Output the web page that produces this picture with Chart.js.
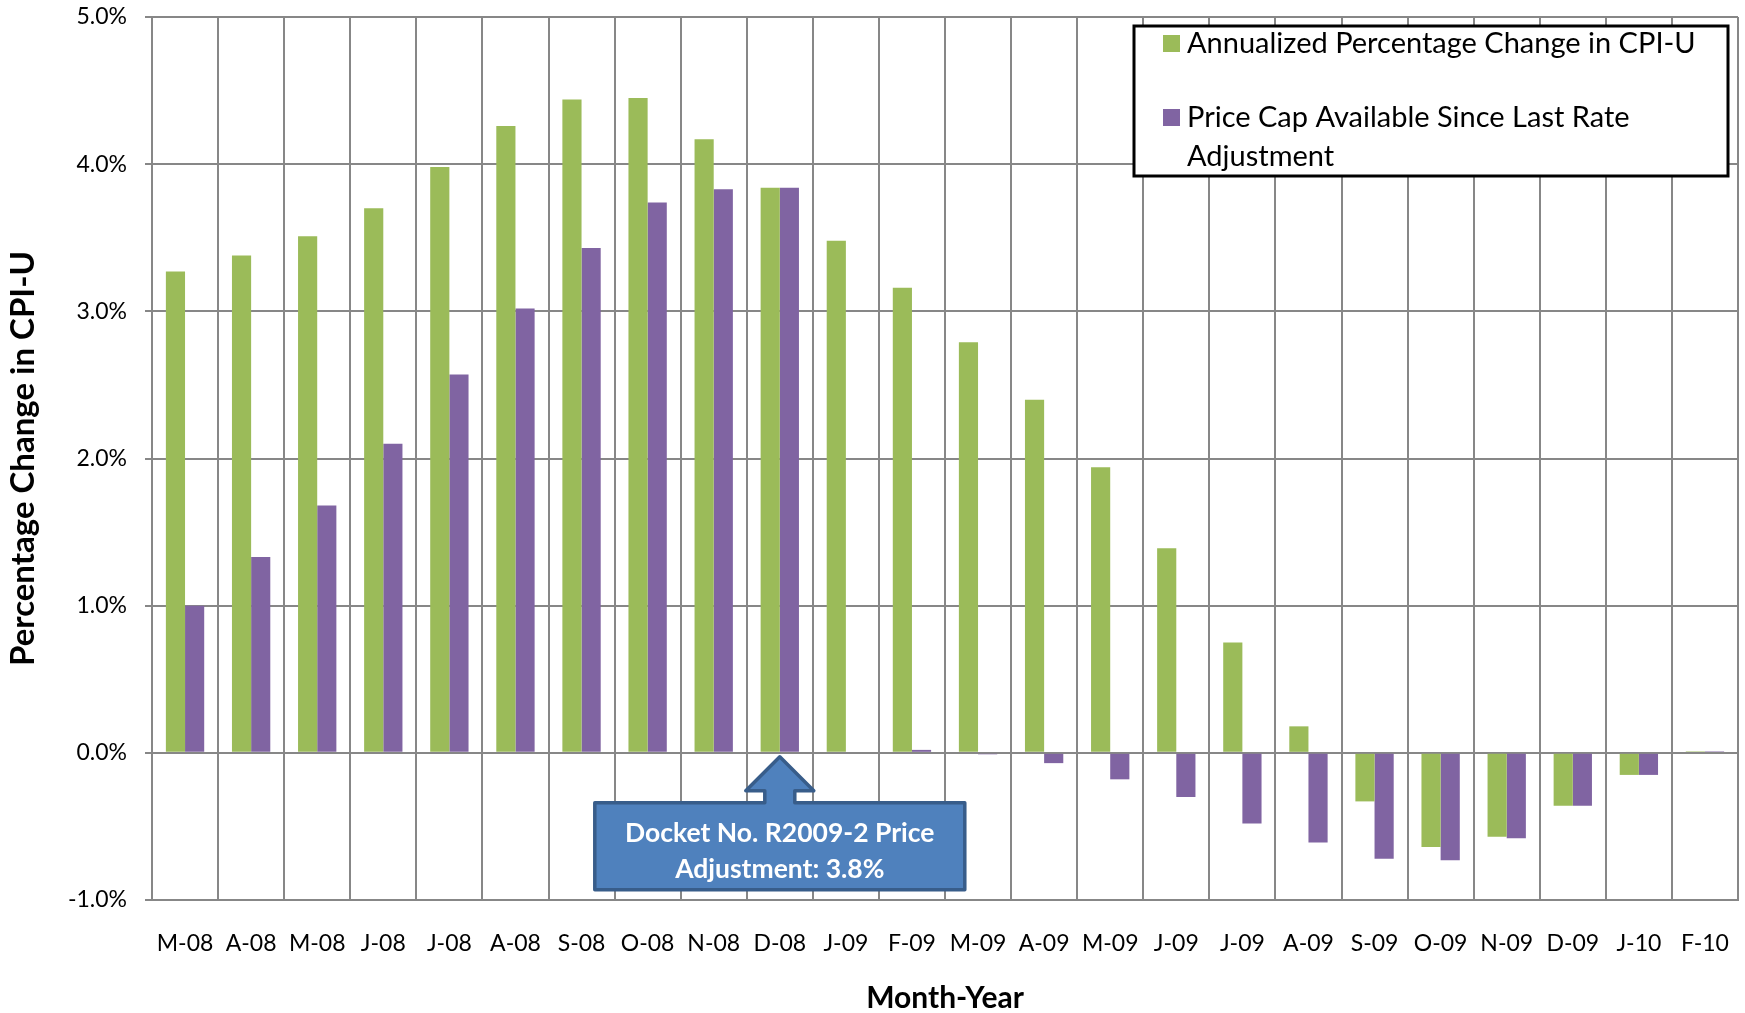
<!DOCTYPE html>
<html>
<head>
<meta charset="utf-8">
<script src="https://cdn.jsdelivr.net/npm/chart.js@4.4.1/dist/chart.umd.min.js"></script>
<style>
    html, body { margin: 0; padding: 0; background: #fff; overflow: hidden; }
    canvas { display: block; }
</style>
</head>
<body>
<canvas id="cpiChart" width="1745" height="1013"></canvas>
<script>
const months = ['M-08', 'A-08', 'M-08', 'J-08', 'J-08', 'A-08', 'S-08', 'O-08', 'N-08', 'D-08', 'J-09', 'F-09',
    'M-09', 'A-09', 'M-09', 'J-09', 'J-09', 'A-09', 'S-09', 'O-09', 'N-09', 'D-09', 'J-10', 'F-10'];
const cpiChange = [3.27, 3.38, 3.51, 3.70, 3.98, 4.26, 4.44, 4.45, 4.17, 3.84, 3.48, 3.16,
    2.79, 2.40, 1.94, 1.39, 0.75, 0.18, -0.33, -0.64, -0.57, -0.36, -0.15, 0.01];
const priceCap = [1.00, 1.33, 1.68, 2.10, 2.57, 3.02, 3.43, 3.74, 3.83, 3.84, 0, 0.02,
    -0.01, -0.07, -0.18, -0.30, -0.48, -0.61, -0.72, -0.73, -0.58, -0.36, -0.15, 0.01];
const seriesNames = ['Annualized Percentage Change in CPI-U', 'Price Cap Available Since Last Rate Adjustment'];
const legendLines = [['Annualized Percentage Change in CPI-U'], ['Price Cap Available Since Last Rate', 'Adjustment']];
const yMin = -1;
const yMax = 5;
const yStep = 1;
const adjustmentMonth = 'D-08';
const adjustmentText = ['Docket No. R2009-2 Price', 'Adjustment: 3.8%'];

const GREEN = '#9bbb59';
const PURPLE = '#8064a2';
const GRID = '#878787';
const FONT = 'Lato, "Open Sans", sans-serif';

// boxed legend in the top right corner
const legendBox = {
    id: 'legendBox',
    afterDraw(chart) {
        const { ctx, chartArea } = chart;
        const left = chartArea.right - 604;
        const top = chartArea.top + 9;
        ctx.save();
        ctx.fillStyle = '#fff';
        ctx.fillRect(left, top, 594, 150);
        ctx.strokeStyle = '#000';
        ctx.lineWidth = 3;
        ctx.strokeRect(left, top, 594, 150);

        ctx.font = '29px ' + FONT;
        ctx.textBaseline = 'middle';
        ctx.textAlign = 'left';
        const colors = [GREEN, PURPLE];
        const rows = [top + 18, top + 92];
        legendLines.forEach((lines, i) => {
            ctx.fillStyle = colors[i];
            ctx.fillRect(left + 29, rows[i] - 9, 17, 17);
            ctx.fillStyle = '#000';
            lines.forEach((line, j) => {
                ctx.fillText(line, left + 53, rows[i] + j * 39);
            });
        });
        ctx.restore();
    }
};

// blue arrow callout under the adjustment month
const callout = {
    id: 'callout',
    afterDraw(chart) {
        const { ctx } = chart;
        const x = chart.scales.x.getPixelForValue(months.indexOf(adjustmentMonth));
        const y = chart.scales.y.getPixelForValue(0);
        const tip = y + 4, headBase = y + 38, boxTop = y + 50, boxBottom = y + 137;
        const boxL = x - 185, boxR = x + 185;

        ctx.save();
        ctx.beginPath();
        ctx.moveTo(boxL, boxTop);
        ctx.lineTo(x - 15, boxTop);
        ctx.lineTo(x - 15, headBase);
        ctx.lineTo(x - 34, headBase);
        ctx.lineTo(x, tip);
        ctx.lineTo(x + 34, headBase);
        ctx.lineTo(x + 15, headBase);
        ctx.lineTo(x + 15, boxTop);
        ctx.lineTo(boxR, boxTop);
        ctx.lineTo(boxR, boxBottom);
        ctx.lineTo(boxL, boxBottom);
        ctx.closePath();
        ctx.fillStyle = '#4f81bd';
        ctx.fill();
        ctx.strokeStyle = '#385d8a';
        ctx.lineWidth = 3.5;
        ctx.lineJoin = 'round';
        ctx.stroke();

        ctx.fillStyle = '#fff';
        ctx.font = 'bold 26.5px ' + FONT;
        ctx.textAlign = 'center';
        ctx.textBaseline = 'middle';
        ctx.fillText(adjustmentText[0], x, y + 81);
        ctx.fillText(adjustmentText[1], x, y + 117);
        ctx.restore();
    }
};

const data = {
    labels: months,
    datasets: [
        { label: seriesNames[0], data: cpiChange, backgroundColor: GREEN },
        { label: seriesNames[1], data: priceCap, backgroundColor: PURPLE }
    ]
};

const config = {
    type: 'bar',
    data: data,
    options: {
        responsive: false,
        animation: false,
        devicePixelRatio: 1,
        layout: { padding: { top: 17, right: 7, left: 0, bottom: 0 } },
        datasets: {
            bar: { categoryPercentage: 0.58, barPercentage: 1.0 }
        },
        plugins: {
            legend: { display: false },
            tooltip: { enabled: false }
        },
        scales: {
            x: {
                grid: { color: GRID, lineWidth: 2, drawTicks: false, offset: true },
                border: { color: GRID, width: 2 },
                ticks: { color: '#000', font: { family: FONT, size: 23 }, padding: 30, maxRotation: 0, autoSkip: false },
                title: {
                    display: true, text: 'Month-Year', color: '#000',
                    font: { family: FONT, size: 30, weight: 'bold', lineHeight: 1 }, padding: { top: 0, bottom: 0 }
                },
                afterFit(scale) {
                    scale.height = 113;
                    scale.paddingLeft = 0;
                    scale.paddingRight = 0;
                }
            },
            y: {
                min: yMin,
                max: yMax,
                grid: { color: GRID, lineWidth: 2, tickLength: 7, tickColor: GRID },
                border: { color: GRID, width: 2 },
                ticks: {
                    stepSize: yStep,
                    color: '#000',
                    padding: 18,
                    font: { family: FONT, size: 23 },
                    callback: (v) => v.toFixed(1) + '%'
                },
                title: {
                    display: true, text: 'Percentage Change in CPI-U', color: '#000',
                    font: { family: FONT, size: 33, weight: 'bold', lineHeight: 1.2 }, padding: { top: 4, bottom: 0 }
                },
                afterFit(scale) {
                    scale.width = 152;
                    scale.paddingTop = 0;
                    scale.paddingBottom = 0;
                }
            }
        }
    },
    plugins: [legendBox, callout]
};

new Chart(document.getElementById('cpiChart'), config);
</script>
</body>
</html>
